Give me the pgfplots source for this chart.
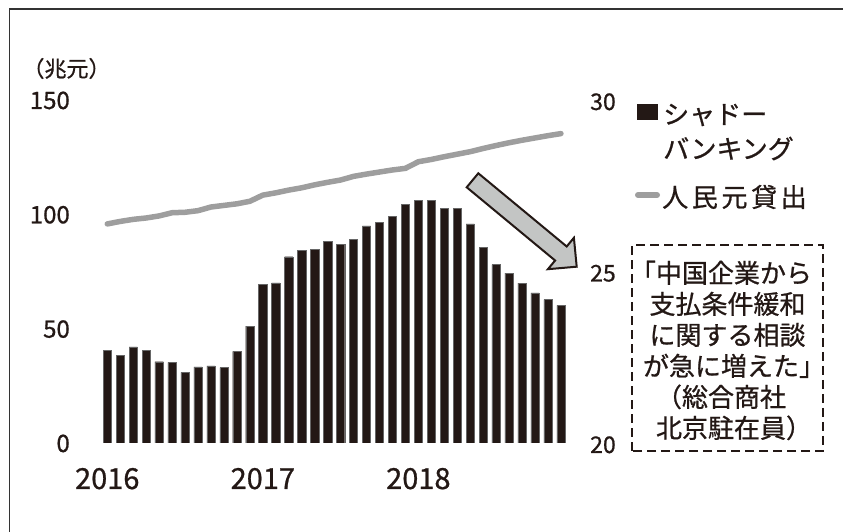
\documentclass[border=0pt]{standalone}
\usepackage{fontspec}
\setmainfont{Noto Sans CJK JP}[FakeBold=0.8]
\newfontfamily\jpbox{Noto Sans CJK JP}[RawFeature=+halt, FakeBold=0.8]
\newfontfamily\jpwide{Noto Sans CJK JP}[LetterSpace=14, FakeBold=0.8]
\usepackage{pgfplots}
\usepackage{pgfplotstable}
\pgfplotsset{compat=1.18}
\definecolor{barc}{HTML}{231815}
\definecolor{linec}{HTML}{9E9E9E}
\definecolor{arrowc}{HTML}{C3C5C4}
\definecolor{txt}{HTML}{231815}

% shadow banking (right axis, trillion yuan)
\pgfplotstableread{
m v
1 22.71
2 22.55
3 22.80
4 22.71
5 22.37
6 22.35
7 22.06
8 22.22
9 22.25
10 22.20
11 22.67
12 23.41
13 24.63
14 24.67
15 25.43
16 25.61
17 25.64
18 25.87
19 25.80
20 25.94
21 26.33
22 26.43
23 26.61
24 26.96
25 27.08
26 27.08
27 26.84
28 26.84
29 26.39
30 25.71
31 25.20
32 24.95
33 24.66
34 24.38
35 24.18
36 24.01
}\shadow

% RMB loans (left axis, trillion yuan)
\pgfplotstableread{
m v
1 95.8
2 96.9
3 97.8
4 98.4
5 99.3
6 100.7
7 100.9
8 101.6
9 103.2
10 103.9
11 104.6
12 105.7
13 108.4
14 109.4
15 110.6
16 111.6
17 112.9
18 114.0
19 115.0
20 116.6
21 117.6
22 118.5
23 119.4
24 120.1
25 123.0
26 124.0
27 125.2
28 126.3
29 127.4
30 128.8
31 130.1
32 131.3
33 132.4
34 133.4
35 134.4
36 135.3
}\loans

\pgfplotsset{common/.style={scale only axis, width=475.7pt, height=343pt,
  xmin=0.2, xmax=36.9, axis line style={draw=none}, tick style={draw=none},
  /pgf/number format/assume math mode=true, at={(96.9pt,89pt)}, anchor=south west}}

\begin{document}
\begin{tikzpicture}
\begin{scope}[x=1pt,y=1pt]
\useasboundingbox (0,0) rectangle (843,532);
\draw[line width=1.3pt, color=black!80] (9.3,0) -- (9.3,523) -- (843,523);
\end{scope}
\begin{axis}[common, ymin=20, ymax=30, axis y line*=right, ytick={20,25,30}, xtick=\empty,
  yticklabel style={font=\fontsize{23}{23}\selectfont, anchor=base west, inner sep=0pt,
    xshift=17.4pt, yshift=-10pt, text=txt},
  ybar, bar width=8.3pt]
\addplot[fill=barc, draw=black!60, line width=0.4pt] table[x=m,y=v]{\shadow};
\end{axis}
\begin{axis}[common, ymin=0, ymax=150, axis y line*=left, ytick={0,50,100,150},
  xtick={1,13,25}, xticklabels={2016,2017,2018},
  yticklabel style={font=\fontsize{24}{24}\selectfont, anchor=base east, inner sep=0pt,
    xshift=-26.9pt, yshift=-9pt, text=txt},
  xticklabel style={font=\fontsize{29}{29}\selectfont, anchor=base, inner sep=0pt,
    yshift=-46pt, text=txt}]
\addplot[linec, line width=5.5pt, line cap=round, line join=round] table[x=m,y=v]{\loans};
\end{axis}
\begin{scope}[x=1pt,y=1pt]
% unit label
\node[inner sep=0pt, text=txt, font=\fontsize{22}{22}\selectfont] at (66.5,463.5) {（兆元）};
% legend
\fill[barc] (636.7,412) rectangle (658.3,428);
\node[anchor=west, inner sep=0pt, text=txt, font=\fontsize{26}{26}\selectfont] at (663,417) {シャドー};
\node[anchor=west, inner sep=0pt, text=txt, font=\fontsize{26}{26}\selectfont] at (663,383.5) {バンキング};
\draw[linec, line width=6pt, line cap=round] (638,337) -- (657,337);
\node[anchor=west, inner sep=0pt, text=txt, font=\jpwide\fontsize{26}{26}\selectfont] at (662,335) {人民元貸出};
% arrow
\draw[fill=arrowc, draw=barc, line width=2pt, line join=miter]
  (478.3,358.7) -- (566.7,285.5) -- (573.9,294.2) -- (576.7,265.3) -- (547.9,262.8) -- (555.1,271.5) -- (466.7,344.7) -- cycle;
% dashed box with quote
\draw[dash pattern=on 9pt off 5pt, line width=2.8pt, barc] (632,81) rectangle (823,287);
\node[inner sep=0pt, align=center, text=txt, font=\jpbox\fontsize{26}{31}\selectfont] at (727.5,181.5)
  {「中国企業から\\支払条件緩和\\に関する相談\\が急に増えた」\\（総合商社\\北京駐在員）};
\end{scope}
\end{tikzpicture}
\end{document}
